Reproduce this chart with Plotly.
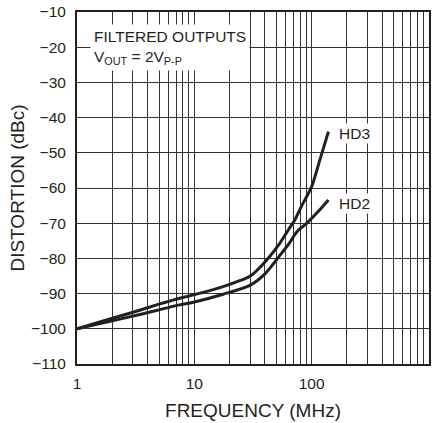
import math

import plotly.graph_objects as go

# HD3 / HD2 distortion vs frequency
hd3_freq = [1, 2, 3, 5, 7.5, 10, 17.6, 25, 30, 40, 54, 63, 72, 83, 100, 118, 139]
hd3_dbc = [-100, -97, -95.3, -93, -91.3, -90.3, -88, -86.2, -85, -81, -75.5,
           -72, -69, -64.8, -59.6, -51.8, -44]

hd2_freq = [1, 3, 7.5, 10, 17.6, 30, 40, 54, 65, 72, 77, 91, 110, 139]
hd2_dbc = [-100, -96.4, -93.2, -92.4, -90.2, -87.6, -84.4, -79, -75.5, -73.2,
           -72, -70, -67.2, -63.4]

x_tickvals = [1, 10, 100, 1000]
x_ticktext = ["1", "10", "100", "1000"]
x_minorvals = [m * 10 ** d for d in range(3) for m in range(2, 10)]
y_tickvals = list(range(-110, 0, 10))
y_ticktext = ["\u2212" + str(abs(v)) for v in y_tickvals]

FONT = "Liberation Sans, Arial, sans-serif"
INK = "#231f20"
GRID = "#333333"

fig = go.Figure()
for name, fx, fy in [("HD3", hd3_freq, hd3_dbc), ("HD2", hd2_freq, hd2_dbc)]:
    fig.add_trace(go.Scatter(
        x=fx, y=fy, mode="lines", name=name,
        line={"color": INK, "width": 3, "shape": "spline", "smoothing": 0.8},
        showlegend=False, hoverinfo="skip",
    ))

fig.update_layout(
    width=446, height=423,
    margin={"l": 77, "r": 17, "t": 12, "b": 59},
    paper_bgcolor="white", plot_bgcolor="white",
    font={"family": FONT, "size": 15.5, "color": INK},
    xaxis={
        "type": "log", "range": [0, 3], "automargin": False,
        "tickvals": x_tickvals, "ticktext": x_ticktext,
        "showgrid": True, "gridcolor": GRID, "gridwidth": 1,
        "minor": {"tickvals": x_minorvals, "showgrid": True,
                  "gridcolor": GRID, "gridwidth": 1, "ticks": ""},
        "showline": True, "linecolor": INK, "linewidth": 2, "mirror": True,
        "ticks": "", "ticklabelstandoff": 4,
        "title": {"text": "FREQUENCY (MHz)", "standoff": 13},
        "zeroline": False,
    },
    yaxis={
        "range": [-110, -10], "automargin": False,
        "tickvals": y_tickvals, "ticktext": y_ticktext,
        "showgrid": True, "gridcolor": GRID, "gridwidth": 1,
        "showline": True, "linecolor": INK, "linewidth": 2, "mirror": True,
        "ticks": "", "ticklabelstandoff": 6,
        "title": {"text": "DISTORTION (dBc)", "standoff": 1},
        "zeroline": False,
    },
)

fig.add_annotation(
    xref="paper", yref="paper", x=0.036, y=0.966,
    xanchor="left", yanchor="top", align="left",
    text="FILTERED OUTPUTS<br>V<sub>OUT</sub> = 2V<sub>P-P</sub>",
    showarrow=False, bgcolor="white", borderpad=3,
)
for label, yv in [("HD3", -44.4), ("HD2", -64.5)]:
    fig.add_annotation(
        x=math.log10(166), y=yv, xanchor="left", yanchor="middle",
        text=label, showarrow=False, bgcolor="white", borderpad=1,
    )

# page body has an 8px default margin; drop it so the figure sits at 0,0
fig.write_html("out.html", config={"displayModeBar": False},
               post_script="document.body.style.margin = '0';")
